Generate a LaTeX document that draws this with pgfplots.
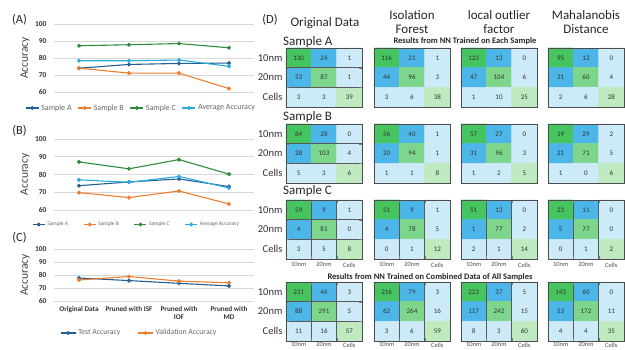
\documentclass[border=0pt]{standalone}
\usepackage{pgfplots}
\pgfplotsset{compat=1.18}
\usepackage{fontspec}
\setmainfont{Carlito}
\definecolor{cA}{RGB}{37,94,145}
\definecolor{cB}{RGB}{237,125,49}
\definecolor{cC}{RGB}{46,139,60}
\definecolor{cAvg}{RGB}{41,170,225}
\newcommand{\fs}[1]{\fontsize{#1}{#1}\selectfont}

\pgfplotsset{
 linechart/.style={scale only axis, width=200pt, xmin=-0.5, xmax=3.5, ymin=60, ymax=100,
   ytick={60,70,80,90,100}, ymajorgrids, grid style={black!15, line width=0.6pt},
   axis line style={draw=none}, major tick length=0pt, xtick=\empty,
   /pgf/number format/assume math mode=true,
   yticklabel style={font=\bfseries\fs{7.5}, text=black!80, xshift=-4pt},
   every axis y label/.style={at={(axis description cs:-0.145,0.5)}, rotate=90, anchor=center, font=\fs{11.5}, text=black!75},
   ylabel=Accuracy, anchor=south west, clip=false,
   every axis plot/.append style={line width=1.1pt, mark=*, mark size=1.4pt},
   legend cell align=left},
 cmbase/.style={scale only axis, width=76pt, height=59pt, xmin=-0.5, xmax=2.5, ymin=-0.5, ymax=2.5,
   y dir=reverse, anchor=north west, xtick=\empty, ytick=\empty, major tick length=0pt,
   axis line style={draw=black!70, line width=0.8pt},
   minor xtick={0.5,1.5}, minor ytick={0.5,1.5}, xminorgrids, yminorgrids,
   minor grid style={black!65, line width=0.5pt}, axis on top,
   colormap={cm}{rgb255=(70,196,96) rgb255=(126,214,141) rgb255=(191,234,191) rgb255=(77,182,232) rgb255=(204,234,247)},
   colormap access=direct, clip=false},
 cmy/.style={ytick={0,1,2}, yticklabels={10nm,20nm,Cells}, yticklabel style={font=\fs{10.5}, text=black!80}},
 cmx/.style={xtick={0,1,2}, xticklabels={10nm,20nm,Cells}, xticklabel style={font=\fs{6.5}, text=black!70}},
 cmxlow/.style={xtick={0,1,2}, xticklabels={10nm,20nm,Cells}, xticklabel style={font=\fs{6.5}, text=black!70, yshift=2pt}},
 cmcur/.style={},
}

\def\cmat#1,#2,#3,#4,#5,#6,#7,#8,#9;{%
\begin{axis}[cmbase, cmcur]
\addplot[matrix plot*, mesh/cols=3, point meta=explicit] coordinates {(0,0)[0] (1,0)[3] (2,0)[4] (0,1)[3] (1,1)[1] (2,1)[4] (0,2)[4] (1,2)[4] (2,2)[2]};
\addplot[draw=none, point meta=explicit symbolic, nodes near coords, nodes near coords align=center, every node near coord/.append style={font=\fs{7}, text=black!80}] coordinates {(0,0)[#1] (1,0)[#2] (2,0)[#3] (0,1)[#4] (1,1)[#5] (2,1)[#6] (0,2)[#7] (1,2)[#8] (2,2)[#9]};
\end{axis}}

\begin{document}
\begin{tikzpicture}[x=1pt,y=1pt]
\path[use as bounding box] (0,0) rectangle (625,-350);

% ---------- Panel A
\begin{axis}[linechart, at={(54pt,-92pt)}, height=68pt,
  legend image code/.code={\draw[mark repeat=2,mark phase=2] plot coordinates {(0pt,0pt)(6.5pt,0pt)(13pt,0pt)};},
  legend style={draw=none, fill=none, inner sep=0pt, font=\fs{8}, text=black!60, legend columns=4,
    at={(axis description cs:-0.145,-0.235)}, anchor=west,
    /tikz/every even column/.append style={column sep=4pt}}]
\addplot[color=cA] coordinates {(0,74) (1,76.2) (2,76.8) (3,77)};
\addplot[color=cB] coordinates {(0,74) (1,71.1) (2,71.1) (3,62)};
\addplot[color=cC] coordinates {(0,87.2) (1,87.8) (2,88.5) (3,86)};
\addplot[color=cAvg] coordinates {(0,78.4) (1,78.4) (2,78.8) (3,75.1)};
\legend{Sample A, Sample B, Sample C, Average Accuracy}
\end{axis}

% ---------- Panel B
\begin{axis}[linechart, at={(54pt,-210pt)}, height=71pt,
  legend image code/.code={\draw[mark repeat=2,mark phase=2] plot coordinates {(0pt,0pt)(6pt,0pt)(12pt,0pt)};},
  legend style={draw=none, fill=none, inner sep=0pt, font=\fs{5.5}, text=black!60, legend columns=4,
    at={(axis description cs:-0.11,-0.204)}, anchor=west,
    /tikz/every even column/.append style={column sep=13pt}}]
\addplot[color=cA] coordinates {(0,73.7) (1,75.8) (2,77.5) (3,73.2)};
\addplot[color=cB] coordinates {(0,69.8) (1,67) (2,70.7) (3,63.4)};
\addplot[color=cC] coordinates {(0,87.1) (1,83.2) (2,88.4) (3,80.2)};
\addplot[color=cAvg] coordinates {(0,77) (1,75.6) (2,78.9) (3,72.4)};
\legend{Sample A, Sample B, Sample C, Average Accuracy}
\end{axis}

% ---------- Panel C
\begin{axis}[linechart, at={(54pt,-301pt)}, height=52pt,
  xtick={0,1,2,3}, xticklabels={Original Data, Pruned with ISF, {Pruned with\\IOF}, {Pruned with\\MD}},
  xticklabel style={font=\bfseries\fontsize{7.2}{8.2}\selectfont, align=center, text=black!80, yshift=-2pt},
  legend image code/.code={\draw[mark repeat=2,mark phase=2] plot coordinates {(0pt,0pt)(7.5pt,0pt)(15pt,0pt)};},
  legend style={draw=none, fill=none, inner sep=0pt, font=\fs{7.7}, text=black!60, legend columns=2,
    at={(axis description cs:0.03,-0.615)}, anchor=west,
    /tikz/every even column/.append style={column sep=15pt}}]
\addplot[color=cA] coordinates {(0,77.7) (1,75.7) (2,73.6) (3,71.6)};
\addplot[color=cB] coordinates {(0,76.2) (1,78.8) (2,75.3) (3,74)};
\legend{Test Accuracy, Validation Accuracy}
\end{axis}

\node[font=\fs{12.5}, text=black!85] at (19.5,-20) {(A)};
\node[font=\fs{12.5}, text=black!85] at (19.5,-131) {(B)};
\node[font=\fs{12.5}, text=black!85] at (19.5,-238) {(C)};

% ---------- Panel D
\node[font=\fs{12.5}, text=black!85] at (270,-20) {(D)};
\node[font=\fs{13}, text=black!85] at (325,-23) {Original Data};
\node[font=\fontsize{13}{14}\selectfont, align=center, text=black!85] at (412,-22) {Isolation\\Forest};
\node[font=\fontsize{13}{14}\selectfont, align=center, text=black!85] at (499,-22) {local outlier\\factor};
\node[font=\fontsize{13}{14}\selectfont, align=center, text=black!85] at (586,-22) {Mahalanobis\\Distance};
\node[font=\fs{13}, text=black!85, anchor=west, inner sep=0pt] at (283,-42) {Sample A};
\node[font=\fs{13}, text=black!85, anchor=west, inner sep=0pt] at (283,-117) {Sample B};
\node[font=\fs{13}, text=black!85, anchor=west, inner sep=0pt] at (283,-191) {Sample C};
\node[font=\bfseries\fs{8.5}, text=black!85] at (465,-41) {Results from NN Trained on Each Sample};
\node[font=\bfseries\fs{8.5}, text=black!85] at (430,-277) {Results from NN Trained on Combined Data of All Samples};

% Sample A
\pgfplotsset{cmcur/.style={at={(286pt,-48pt)}, cmy}}\cmat 130,24,1,53,87,1,3,3,39;
\pgfplotsset{cmcur/.style={at={(374pt,-48pt)}}}\cmat 116,21,1,44,96,3,3,6,38;
\pgfplotsset{cmcur/.style={at={(461pt,-48pt)}}}\cmat 123,13,0,47,104,6,1,10,25;
\pgfplotsset{cmcur/.style={at={(548pt,-48pt)}}}\cmat 95,12,0,31,60,4,2,6,28;
% Sample B
\pgfplotsset{cmcur/.style={at={(286pt,-124pt)}, cmy}}\cmat 64,28,0,28,103,4,5,3,6;
\pgfplotsset{cmcur/.style={at={(374pt,-124pt)}}}\cmat 56,40,1,20,94,1,1,1,8;
\pgfplotsset{cmcur/.style={at={(461pt,-124pt)}}}\cmat 57,27,0,31,96,3,1,2,5;
\pgfplotsset{cmcur/.style={at={(548pt,-124pt)}}}\cmat 19,29,2,21,71,5,1,0,6;
% Sample C
\pgfplotsset{cmcur/.style={at={(286pt,-200pt)}, cmy, cmx}}\cmat 59,9,1,4,81,0,3,5,8;
\pgfplotsset{cmcur/.style={at={(374pt,-200pt)}, cmx}}\cmat 51,9,1,4,78,5,0,1,12;
\pgfplotsset{cmcur/.style={at={(461pt,-200pt)}, cmx}}\cmat 51,13,0,1,77,2,2,1,14;
\pgfplotsset{cmcur/.style={at={(548pt,-200pt)}, cmx}}\cmat 23,11,0,5,77,0,0,1,2;
% Combined
\pgfplotsset{cmcur/.style={at={(286pt,-282pt)}, cmy, cmxlow}}\cmat 231,46,3,88,291,5,11,16,57;
\pgfplotsset{cmcur/.style={at={(374pt,-282pt)}, cmxlow}}\cmat 216,79,3,62,264,16,3,6,59;
\pgfplotsset{cmcur/.style={at={(461pt,-282pt)}, cmxlow}}\cmat 223,37,5,117,242,15,8,3,60;
\pgfplotsset{cmcur/.style={at={(548pt,-282pt)}, cmxlow}}\cmat 143,60,0,53,172,11,4,4,35;
\end{tikzpicture}
\end{document}
